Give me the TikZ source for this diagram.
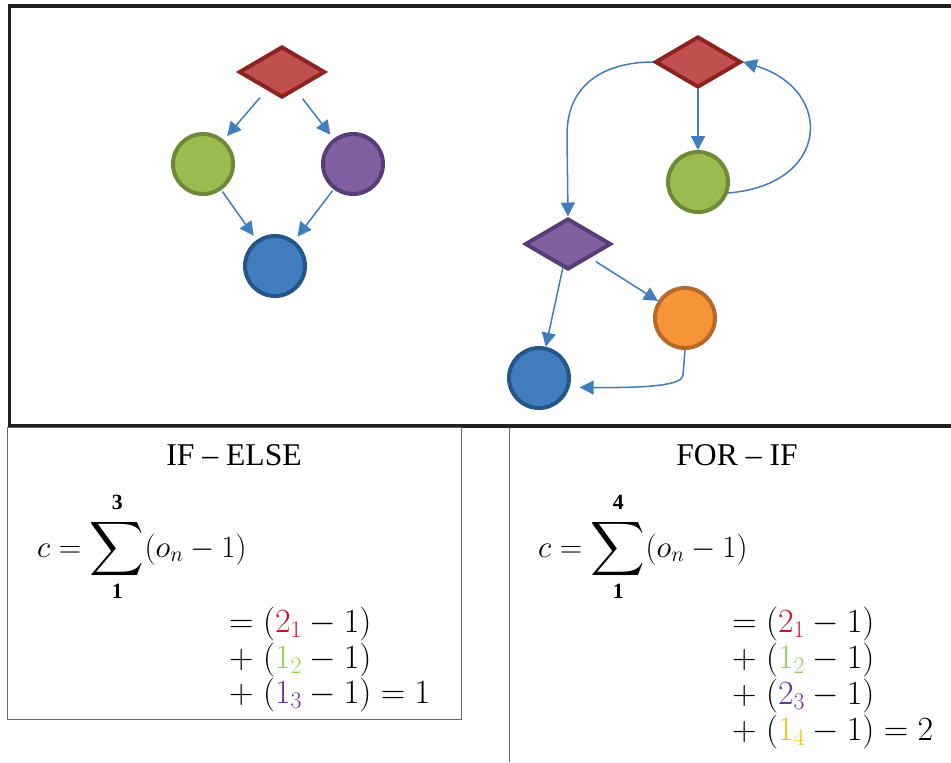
\RequirePackage{fix-cm}
\documentclass[tikz,border=0pt]{standalone}
\usepackage{amsmath}
\usepackage{fontspec}
\setmainfont{Liberation Serif}
\usetikzlibrary{arrows.meta,shapes.geometric}

\definecolor{flowblue}{RGB}{66,126,190}
\definecolor{redfill}{RGB}{192,80,77}
\definecolor{redline}{RGB}{140,35,32}
\definecolor{greenfill}{RGB}{155,187,80}
\definecolor{greenline}{RGB}{110,138,56}
\definecolor{purplefill}{RGB}{128,96,160}
\definecolor{purpleline}{RGB}{88,62,118}
\definecolor{bluefill}{RGB}{66,126,190}
\definecolor{blueline}{RGB}{36,86,136}
\definecolor{orangefill}{RGB}{246,148,56}
\definecolor{orangeline}{RGB}{184,104,40}
\definecolor{framegray}{RGB}{35,31,32}
\definecolor{termred}{RGB}{200,20,40}
\definecolor{termgreen}{RGB}{146,208,80}
\definecolor{termpurple}{RGB}{112,48,160}
\definecolor{termyellow}{RGB}{255,192,0}

\newcommand{\bigsum}{\mathop{\vcenter{\hbox{\scalebox{1.3}{$\displaystyle\sum$}}}}\limits}
\newcommand{\uplim}[1]{\mathbf{#1}\rule[-5pt]{0pt}{0pt}}

\begin{document}
\begin{tikzpicture}[x=0.3mm,y=-0.3mm,>={Triangle[length=4.2mm,width=4.2mm]},
  flow/.style={->,draw=flowblue,line width=1.3pt},
  ring/.style={circle,line width=3.4pt,minimum size=18mm,inner sep=0pt},
  gem/.style={diamond,line width=3.4pt,minimum width=25.8mm,minimum height=15.3mm,inner sep=0pt},
  frame/.style={draw=framegray,line width=3.4pt},
  panel/.style={draw=black!60,line width=0.8pt},
  heading/.style={font=\fontsize{27}{32}\selectfont,anchor=base},
  eqn/.style={font=\fontsize{26.5}{31}\selectfont,anchor=base west,inner sep=0pt},
  term/.style={eqn,font=\fontsize{29}{34}\selectfont}]
  \useasboundingbox (0,0) rectangle (951,762);

  % outer frame and the two lower panels
  \draw[frame] (951,6) -- (9.5,6) -- (9.5,425.5) -- (951,425.5);
  \draw[panel] (7,427) rectangle (461,719);
  \draw[panel] (509,427) -- (509,762);

  % if - else
  \node[gem,fill=redfill,draw=redline] (ifcond) at (282,72) {};
  \node[ring,fill=greenfill,draw=greenline] (ifthen) at (203,164) {};
  \node[ring,fill=purplefill,draw=purpleline] (ifelse) at (353,164) {};
  \node[ring,fill=bluefill,draw=blueline] (ifend) at (275,266) {};
  \draw[flow,shorten <=3mm,shorten >=1.5mm] (ifcond) -- (ifthen);
  \draw[flow,shorten <=3mm,shorten >=1.5mm] (ifcond) -- (ifelse);
  \draw[flow,shorten <=0.5mm,shorten >=1.5mm] (ifthen) -- (ifend);
  \draw[flow,shorten <=0.5mm,shorten >=1.5mm] (ifelse) -- (ifend);

  % for - if
  \node[gem,fill=redfill,draw=redline] (forcond) at (698,62) {};
  \node[ring,fill=greenfill,draw=greenline] (forbody) at (698,182) {};
  \node[gem,fill=purplefill,draw=purpleline] (ifcheck) at (568,244) {};
  \node[ring,fill=orangefill,draw=orangeline] (ifyes) at (685,318) {};
  \node[ring,fill=bluefill,draw=blueline] (forend) at (539,378) {};
  \draw[flow] (forcond.south) -- (forbody.north);
  \draw[flow] (forbody.-20) .. controls (830,185) and (835,90) .. (forcond.east);
  \draw[flow] (forcond.west) .. controls (610,62) and (567,80) .. (567,135) -- (ifcheck.north);
  \draw[flow] (ifcheck) -- (forend);
  \draw[flow,shorten <=2mm] (ifcheck) -- (ifyes);
  \draw[flow,shorten >=3mm] (ifyes.south) -- (683,375) .. controls (683,385) and (650,388) .. (forend.-17);

  % cost sums
  \node[heading] (iftitle) at (234,465) {IF -- ELSE};
  \node[eqn] (ifsum) at (37,557) {$c=\bigsum_{\mathbf{1}}^{\uplim{3}}(o_n-1)$};
  \foreach \y/\t in {632/{=(\textcolor{termred}{2_1}-1)},
                     668/{\mathord{+}\;(\textcolor{termgreen}{1_2}-1)},
                     703/{\mathord{+}\;(\textcolor{termpurple}{1_3}-1)=1}}
    \node[term] (ifterm\y) at (229,\y) {$\t$};

  \node[heading] (fortitle) at (737,465) {FOR -- IF};
  \node[eqn] (forsum) at (538,557) {$c=\bigsum_{\mathbf{1}}^{\uplim{4}}(o_n-1)$};
  \foreach \y/\t in {632/{=(\textcolor{termred}{2_1}-1)},
                     668/{\mathord{+}\;(\textcolor{termgreen}{1_2}-1)},
                     704/{\mathord{+}\;(\textcolor{termpurple}{2_3}-1)},
                     740/{\mathord{+}\;(\textcolor{termyellow}{1_4}-1)=2}}
    \node[term] (forterm\y) at (732,\y) {$\t$};
\end{tikzpicture}
\end{document}
